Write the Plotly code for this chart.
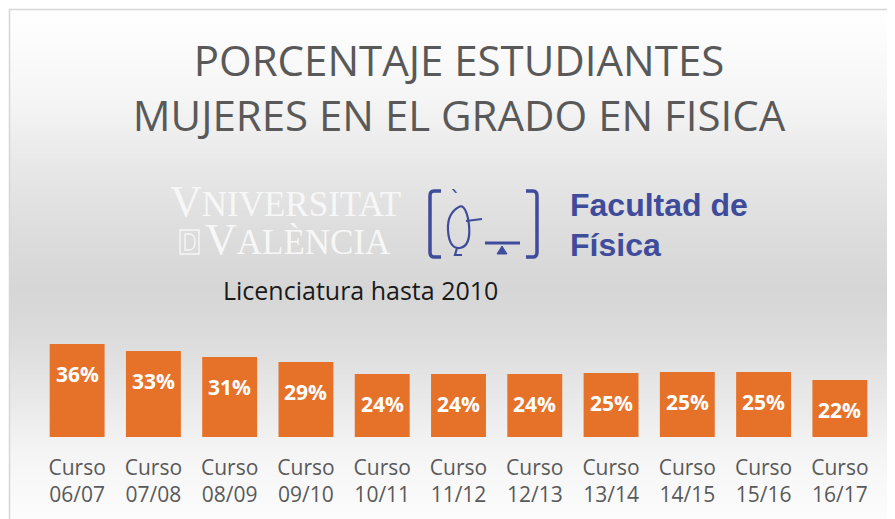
import plotly.graph_objects as go

# ---- data ----
cursos = ["06/07", "07/08", "08/09", "09/10", "10/11", "11/12",
          "12/13", "13/14", "14/15", "15/16", "16/17"]
porcentajes = [0.358, 0.331, 0.308, 0.288, 0.242, 0.242,
               0.242, 0.246, 0.250, 0.250, 0.219]
etiquetas_eje = ["Curso<br>" + c for c in cursos]
titulo = "PORCENTAJE ESTUDIANTES<br>MUJERES EN EL GRADO EN FISICA"
subtitulo = "Licenciatura hasta 2010"

# ---- layout geometry ----
# The page has an 8px body margin, so figure pixel = page pixel - 8.
OFF = 8
W, H = 887, 511
PLOT_LEFT, PLOT_RIGHT, PLOT_TOP, PLOT_BOTTOM = 39, 878, 300, 437  # page px
L = PLOT_LEFT - OFF
R = W - (PLOT_RIGHT - OFF)
T = PLOT_TOP - OFF
B = H - (PLOT_BOTTOM - OFF)
PW, PH = W - L - R, H - T - B
PX_PER_UNIT = 260  # pixels per 100%


def fx(x):
    return (x - OFF - L) / PW


def fy(y):
    return (H - B - (y - OFF)) / PH


fig = go.Figure()
fig.add_trace(go.Bar(
    x=cursos, y=porcentajes,
    marker=dict(color="#E6722A", line=dict(width=0)),
    hoverinfo="x+y", showlegend=False,
))

annotations = []
for c, v in zip(cursos, porcentajes):
    annotations.append(dict(
        x=c, y=v, xref="x", yref="y", text=f"{round(v * 100)}%",
        showarrow=False, yanchor="middle", yshift=-30,
        font=dict(family="Open Sans", size=21, color="white", weight="bold"),
    ))

annotations.append(dict(
    x=fx(360), y=fy(290), xref="paper", yref="paper", text=subtitulo,
    showarrow=False, xanchor="center", yanchor="middle",
    font=dict(family="Open Sans", size=25, color="#1a1a1a"),
))

logo_grey = "#f7f7f7"
blue = "#3F4B9B"
big = "<span style='font-size:44px'>V</span>"
small = "<span style='font-size:35px'>{}</span>"
annotations += [
    dict(x=fx(168), y=fy(220), xref="paper", yref="paper",
         text=(big + small.format("NIVERSITAT") + "<br>"
               + small.format("\u00a0\u00a0\u00a0\u00a0")
               + big + small.format("ALÈNCIA")),
         showarrow=False, xanchor="left", yanchor="middle", align="left",
         font=dict(family="Liberation Serif", size=29, color=logo_grey)),
    dict(x=fx(568), y=fy(225), xref="paper", yref="paper",
         text="Facultad de", showarrow=False, xanchor="left", yanchor="bottom",
         font=dict(family="Liberation Sans", size=32, color=blue, weight="bold")),
    dict(x=fx(568), y=fy(265), xref="paper", yref="paper",
         text="Física", showarrow=False, xanchor="left", yanchor="bottom",
         font=dict(family="Liberation Sans", size=32, color=blue, weight="bold")),
    dict(x=fx(455), y=fy(198), xref="paper", yref="paper",
         text="`", showarrow=False, xanchor="center", yanchor="middle",
         font=dict(family="DejaVu Sans", size=22, color=blue)),
]

# ---- background gradient ----
stops = [(0, 255), (20, 254), (100, 245), (170, 231), (230, 221),
         (290, 214), (340, 220), (400, 233), (450, 244), (480, 248), (527, 253)]


def grey(y):
    for (y0, g0), (y1, g1) in zip(stops[:-1], stops[1:]):
        if y0 <= y <= y1:
            return g0 + (g1 - g0) * (y - y0) / (y1 - y0)
    return stops[-1][1]


shapes = []
step = 3
for y in range(9, 527, step):
    g = int(round(grey(y + step / 2)))
    shapes.append(dict(type="rect", xref="paper", yref="paper",
                       x0=fx(9), x1=fx(W + OFF + 4), y0=fy(y + step + 0.5), y1=fy(y),
                       fillcolor=f"rgb({g},{g},{g})", line=dict(width=0),
                       layer="below"))
shapes.append(dict(type="rect", xref="paper", yref="paper",
                   x0=fx(9.5), x1=fx(W + OFF + 6), y0=fy(H + OFF + 6), y1=fy(9.5),
                   line=dict(color="#d6d6d6", width=1.5), fillcolor="rgba(0,0,0,0)",
                   layer="below"))


def P(x, y):
    return f"{fx(x):.5f},{fy(y):.5f}"


shapes += [
    dict(type="path", xref="paper", yref="paper",
         path=f"M{P(441,191)} L{P(434,191)} Q{P(430,191)} {P(430,196)} L{P(430,252)} Q{P(430,257)} {P(434,257)} L{P(441,257)}",
         line=dict(color=blue, width=3.5)),
    dict(type="path", xref="paper", yref="paper",
         path=f"M{P(526,191)} L{P(533,191)} Q{P(537,191)} {P(537,196)} L{P(537,252)} Q{P(537,257)} {P(533,257)} L{P(526,257)}",
         line=dict(color=blue, width=3.5)),
    dict(type="path", xref="paper", yref="paper",
         path=f"M{P(461,206)} Q{P(447,212)} {P(448,230)} Q{P(449,249)} {P(460,248)} Q{P(471,246)} {P(469,225)} Q{P(467,208)} {P(461,206)}",
         line=dict(color=blue, width=2.2)),
    dict(type="line", xref="paper", yref="paper", x0=fx(466), y0=fy(221), x1=fx(482), y1=fy(219),
         line=dict(color=blue, width=2.2)),
    dict(type="path", xref="paper", yref="paper",
         path=f"M{P(457,248)} L{P(455,255)} L{P(462,255)}",
         line=dict(color=blue, width=2.2)),
    dict(type="line", xref="paper", yref="paper", x0=fx(485), y0=fy(243), x1=fx(520), y1=fy(243),
         line=dict(color=blue, width=3)),
    dict(type="path", xref="paper", yref="paper",
         path=f"M{P(502,246)} L{P(497,254)} L{P(507,254)} Z",
         fillcolor=blue, line=dict(color=blue, width=1)),
    # boxed "D" emblem of the university logo
    dict(type="rect", xref="paper", yref="paper", x0=fx(180), x1=fx(199), y0=fy(254), y1=fy(230),
         line=dict(color=logo_grey, width=1.3), layer="above"),
    dict(type="path", xref="paper", yref="paper",
         path=f"M{P(185,234)} L{P(185,250)} L{P(189,250)} Q{P(195,250)} {P(195,242)} Q{P(195,234)} {P(189,234)} Z",
         line=dict(color=logo_grey, width=1.3), layer="above"),
]

fig.update_layout(
    width=W, height=H,
    margin=dict(l=L, r=R, t=T, b=B, pad=0),
    paper_bgcolor="white", plot_bgcolor="rgba(0,0,0,0)",
    bargap=0.28,
    title=dict(text=titulo, x=(459 - OFF) / W, xanchor="center", xref="container",
               y=1 - (76 - OFF) / H, yanchor="middle", yref="container",
               font=dict(family="Open Sans", size=42, color="#595959")),
    xaxis=dict(tickvals=cursos, ticktext=etiquetas_eje, showgrid=False,
               showline=False, zeroline=False, ticks="", ticklabelstandoff=16,
               tickfont=dict(family="Open Sans", size=21, color="#595959")),
    yaxis=dict(range=[0, PH / PX_PER_UNIT], visible=False, showgrid=False, zeroline=False),
    annotations=annotations,
    shapes=shapes,
)

fig.write_html("out.html")
